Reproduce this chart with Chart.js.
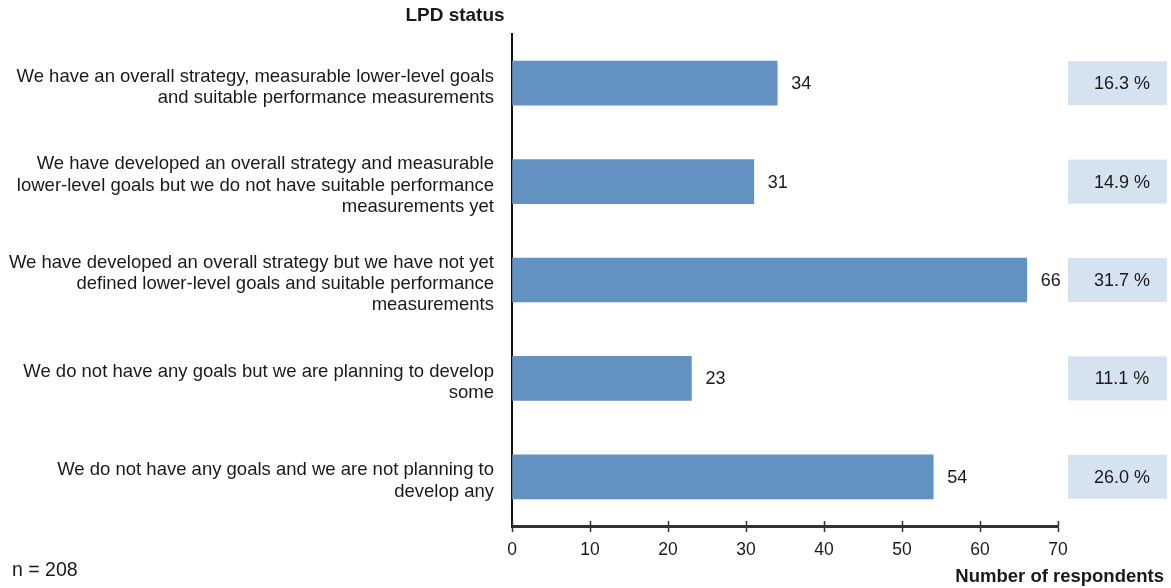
<!DOCTYPE html>
<html>
<head>
<meta charset="utf-8">
<script src="https://cdn.jsdelivr.net/npm/chart.js@4.4.1/dist/chart.umd.min.js"></script>
<style>
  html, body { margin: 0; padding: 0; background: #fff; }
  #wrap { width: 1171px; height: 588px; position: relative; }
</style>
</head>
<body>
<div id="wrap"><canvas id="lpdChart"></canvas></div>
<script>
// LPD status answers and respondent counts
const statusLabels = [
    ['We have an overall strategy, measurable lower-level goals', 'and suitable performance measurements'],
    ['We have developed an overall strategy and measurable', 'lower-level goals but we do not have suitable performance', 'measurements yet'],
    ['We have developed an overall strategy but we have not yet', 'defined lower-level goals and suitable performance', 'measurements'],
    ['We do not have any goals but we are planning to develop', 'some'],
    ['We do not have any goals and we are not planning to', 'develop any']
];
const respondents = [34, 31, 66, 23, 54];
const shares = ['16.3 %', '14.9 %', '31.7 %', '11.1 %', '26.0 %'];
const xTicks = [0, 10, 20, 30, 40, 50, 60, 70];
const sampleSize = 208;

const FONT = 'Liberation Sans, Arial, sans-serif';
const TEXT = '#1a1a1a';
const SIZE = 18.5;

// values next to the bars, share boxes on the right, loose texts
const extrasPlugin = {
    id: 'extras',
    afterDatasetsDraw(chart) {
        const ctx = chart.ctx;
        const meta = chart.getDatasetMeta(0);
        const xs = chart.scales.x;
        ctx.save();
        ctx.font = '18px ' + FONT;
        ctx.textBaseline = 'middle';
        meta.data.forEach(function(bar, i){
            ctx.textAlign = 'left';
            ctx.fillStyle = TEXT;
            ctx.fillText(String(respondents[i]), bar.x + 14, bar.y + 1);

            ctx.fillStyle = '#d5e3f0';
            ctx.fillRect(1068, bar.y - 22, 99, 44);
            ctx.fillStyle = TEXT;
            ctx.textAlign = 'center';
            ctx.fillText(shares[i], 1122, bar.y + 1);
        });

        // upper half of the x tick marks
        ctx.strokeStyle = '#333';
        ctx.lineWidth = 1.5;
        xTicks.forEach(function(v){
            const px = Math.round(xs.getPixelForValue(v)) + 0.5;
            ctx.beginPath();
            ctx.moveTo(px, xs.top - 5);
            ctx.lineTo(px, xs.top);
            ctx.stroke();
        });

        ctx.font = 'bold 19px ' + FONT;
        ctx.textAlign = 'center';
        ctx.fillText('LPD status', 455, 16);
        ctx.font = 'bold ' + SIZE + 'px ' + FONT;
        ctx.textAlign = 'right';
        ctx.fillText('Number of respondents', 1164, 577);

        ctx.font = '19.5px ' + FONT;
        ctx.textAlign = 'left';
        ctx.fillText('n = ' + sampleSize, 12, 571);
        ctx.restore();
    }
};

new Chart(document.getElementById('lpdChart'), {
    type: 'bar',
    data: {
        labels: statusLabels,
        datasets: [{
            data: respondents,
            backgroundColor: '#6391c2',
            borderWidth: 0,
            barThickness: 44
        }]
    },
    options: {
        indexAxis: 'y',
        responsive: true,
        maintainAspectRatio: false,
        animation: false,
        layout: { padding: { top: 34, right: 113, left: 0, bottom: 0 } },
        plugins: {
            legend: { display: false },
            tooltip: { enabled: false }
        },
        scales: {
            x: {
                min: 0,
                max: 70,
                afterBuildTicks(scale){
                    scale.ticks = xTicks.map(v => ({ value: v }));
                },
                afterFit(scale){ scale.height = 62; },
                grid: {
                    drawOnChartArea: false,
                    drawTicks: true,
                    tickLength: 6,
                    tickWidth: 1.5,
                    tickColor: '#333'
                },
                border: { display: true, color: '#333', width: 3 },
                ticks: {
                    padding: 8,
                    color: TEXT,
                    font: { family: FONT, size: 17.5 }
                }
            },
            y: {
                afterFit(scale){
                    scale.width = 512;
                    scale.paddingTop = 0;
                    scale.paddingBottom = 0;
                },
                grid: { display: false, drawTicks: false },
                border: { display: true, color: '#111', width: 2 },
                ticks: {
                    padding: 18,
                    labelOffset: 4,
                    color: TEXT,
                    font: { family: FONT, size: SIZE, lineHeight: 1.15 }
                }
            }
        }
    },
    plugins: [extrasPlugin]
});
</script>
</body>
</html>
